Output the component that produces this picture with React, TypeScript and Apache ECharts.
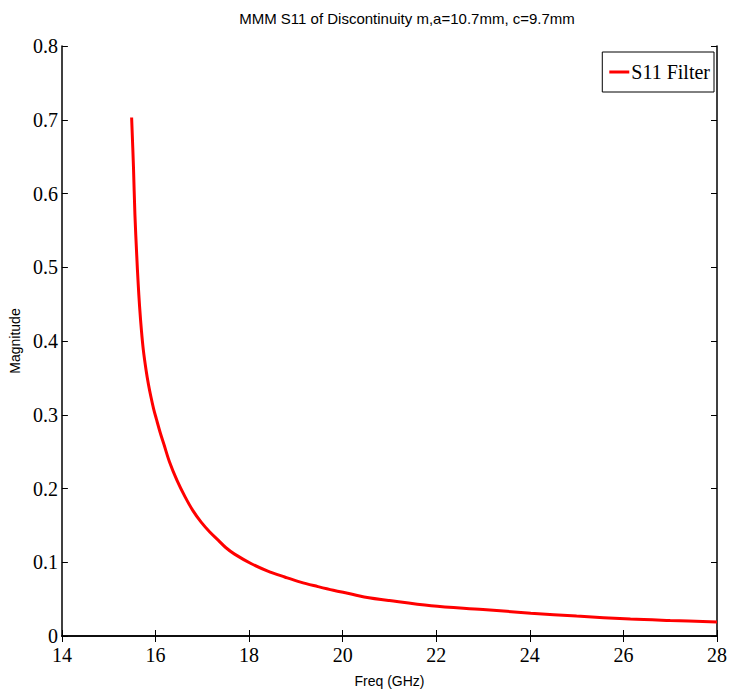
import React, { useEffect, useRef } from "react";
import * as echarts from "echarts";

const freqs = [15.49, 15.53, 15.56, 15.6, 15.63, 15.66, 15.7, 15.74, 15.8, 15.85, 15.9, 15.96, 16.02, 16.1, 16.18, 16.3, 16.46, 16.63, 16.8, 16.98, 17.16, 17.34, 17.5, 17.69, 18.05, 18.4, 18.76, 19.1, 19.47, 19.8, 20.18, 20.46, 21.0, 21.89, 23.0, 24.02, 25.0, 26.15, 27.0, 28.0];
const s11 = [0.703, 0.635, 0.572, 0.515, 0.478, 0.447, 0.414, 0.388, 0.36, 0.341, 0.325, 0.308, 0.294, 0.276, 0.26, 0.236, 0.211, 0.189, 0.17, 0.154, 0.141, 0.13, 0.12, 0.111, 0.098, 0.088, 0.08, 0.073, 0.067, 0.062, 0.057, 0.053, 0.048, 0.041, 0.036, 0.031, 0.027, 0.023, 0.021, 0.019];
const xTicks = [14, 16, 18, 20, 22, 24, 26, 28];
const yTicks = [0, 0.1, 0.2, 0.3, 0.4, 0.5, 0.6, 0.7, 0.8];

export default function App() {
  const ref = useRef<HTMLDivElement>(null);
  useEffect(() => {
    if (!ref.current) return;
    const chart = echarts.init(ref.current, null, { renderer: "svg" });
    const serif = "'Liberation Serif', 'Times New Roman', serif";
    const sans = "'Liberation Sans', Arial, sans-serif";
    const axisCommon = {
      axisLine: { show: true, lineStyle: { color: "#000", width: 1.5 } },
      axisTick: { show: true, inside: true, length: 6, lineStyle: { color: "#000", width: 1 } },
      splitLine: { show: false },
    };
    chart.setOption({
      animation: false,
      backgroundColor: "#fff",
      title: {
        text: "MMM S11 of Discontinuity m,a=10.7mm, c=9.7mm",
        left: 402,
        textAlign: "center",
        top: 6,
        textStyle: { fontFamily: sans, fontSize: 15, fontWeight: "normal", color: "#000" },
      },
      grid: { left: 60, right: 13, top: 46, bottom: 62, containLabel: false },
      legend: {
        right: 16,
        top: 52,
        orient: "vertical",
        borderColor: "#000",
        borderWidth: 1,
        borderRadius: 0,
        padding: [10, 4, 10, 7],
        itemWidth: 20,
        itemHeight: 3,
        itemGap: 0,
        icon: "rect",
        textStyle: { fontFamily: serif, fontSize: 20, color: "#000", padding: [0, 0, 0, -3] },
        data: ["S11 Filter"],
      },
      xAxis: [
        {
          type: "value",
          min: 14,
          max: 28,
          interval: 2,
          position: "bottom",
          name: "Freq (GHz)",
          nameLocation: "middle",
          nameGap: 38,
          nameTextStyle: { fontFamily: sans, fontSize: 14, color: "#000" },
          axisLabel: {
            fontFamily: serif,
            fontSize: 20,
            color: "#000",
            margin: 9,
            formatter: (v: number) => (xTicks.includes(v) ? String(v) : ""),
          },
          ...axisCommon,
        },
        {
          type: "value",
          min: 14,
          max: 28,
          interval: 2,
          position: "top",
          axisLabel: { show: false },
          ...axisCommon,
        },
      ],
      yAxis: [
        {
          type: "value",
          min: 0,
          max: 0.8,
          interval: 0.1,
          position: "left",
          name: "Magnitude",
          nameLocation: "middle",
          nameGap: 36,
          nameTextStyle: { fontFamily: sans, fontSize: 14, color: "#000" },
          axisLabel: {
            fontFamily: serif,
            fontSize: 20,
            color: "#000",
            margin: 4,
            formatter: (v: number) => {
              const t = yTicks.find((y) => Math.abs(y - v) < 1e-6);
              return t === undefined ? "" : t === 0 ? "0" : t.toFixed(1);
            },
          },
          ...axisCommon,
        },
        {
          type: "value",
          min: 0,
          max: 0.8,
          interval: 0.1,
          position: "right",
          axisLabel: { show: false },
          ...axisCommon,
        },
      ],
      series: [
        {
          name: "S11 Filter",
          type: "line",
          xAxisIndex: 0,
          yAxisIndex: 0,
          data: freqs.map((f, i) => [f, s11[i]]),
          showSymbol: false,
          symbol: "none",
          smooth: 0.35,
          lineStyle: { color: "#ff0000", width: 3 },
          itemStyle: { color: "#ff0000" },
        },
      ],
    });
    return () => chart.dispose();
  }, []);
  return <div ref={ref} style={{ position: "fixed", left: 0, top: 0, width: 730, height: 698 }} />;
}
